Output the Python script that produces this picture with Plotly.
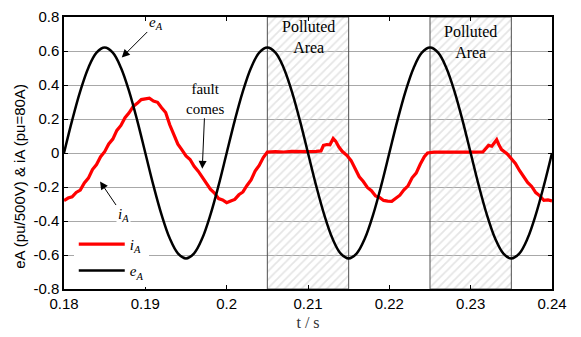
import plotly.graph_objects as go

# ---- data ----
EA_T = [round(0.180 + 0.001 * k, 3) for k in range(61)]
EA_V = [0.0, 0.192, 0.364, 0.502, 0.590, 0.620, 0.590, 0.502, 0.364, 0.192,
        0.0, -0.192, -0.364, -0.502, -0.590, -0.620, -0.590, -0.502, -0.364, -0.192,
        0.0, 0.192, 0.364, 0.502, 0.590, 0.620, 0.590, 0.502, 0.364, 0.192,
        0.0, -0.192, -0.364, -0.502, -0.590, -0.620, -0.590, -0.502, -0.364, -0.192,
        0.0, 0.192, 0.364, 0.502, 0.590, 0.620, 0.590, 0.502, 0.364, 0.192,
        0.0, -0.192, -0.364, -0.502, -0.590, -0.620, -0.590, -0.502, -0.364, -0.192,
        0.0]

IA_T = [0.1800, 0.1805, 0.1810, 0.1815, 0.1820, 0.1825, 0.1830, 0.1835, 0.1840, 0.1845,
        0.1850, 0.1855, 0.1860, 0.1865, 0.1870, 0.1875, 0.1880, 0.1885, 0.1890, 0.1895,
        0.1900, 0.1905, 0.1910, 0.1915, 0.1920, 0.1925, 0.1930, 0.1935, 0.1940, 0.1945,
        0.1950, 0.1955, 0.1960, 0.1965, 0.1970, 0.1975, 0.1980, 0.1985, 0.1990, 0.1995,
        0.2000, 0.2005, 0.2010, 0.2015, 0.2020, 0.2025, 0.2030, 0.2035, 0.2040, 0.2045,
        0.2050, 0.2060, 0.2070, 0.2080, 0.2090, 0.2100, 0.2110, 0.2116, 0.2119, 0.2123,
        0.2127, 0.2131, 0.2134, 0.2138, 0.2142, 0.2148, 0.2153, 0.2158, 0.2163, 0.2168,
        0.2173, 0.2178, 0.2183, 0.2188, 0.2193, 0.2198, 0.2203, 0.2208, 0.2213, 0.2218,
        0.2223, 0.2228, 0.2233, 0.2238, 0.2243, 0.2247, 0.2255, 0.2265, 0.2275, 0.2285,
        0.2295, 0.2305, 0.2315, 0.2319, 0.2322, 0.2326, 0.2329, 0.2332, 0.2335, 0.2338,
        0.2345, 0.2350, 0.2355, 0.2360, 0.2365, 0.2370, 0.2375, 0.2380, 0.2385, 0.2390,
        0.2395, 0.2400]
IA_V = [-0.280, -0.265, -0.258, -0.232, -0.218, -0.176, -0.148, -0.097, -0.068, -0.022,
        0.008, 0.053, 0.082, 0.133, 0.162, 0.208, 0.236, 0.273, 0.292, 0.314,
        0.318, 0.322, 0.306, 0.298, 0.266, 0.238, 0.166, 0.113, 0.052, 0.018,
        -0.017, -0.038, -0.078, -0.107, -0.143, -0.176, -0.213, -0.236, -0.268, -0.276,
        -0.292, -0.282, -0.273, -0.246, -0.229, -0.191, -0.158, -0.106, -0.073, -0.027,
        0.005, 0.008, 0.006, 0.009, 0.007, 0.008, 0.010, 0.012, 0.045, 0.050,
        0.048, 0.085, 0.070, 0.035, 0.010, -0.015, -0.045, -0.090, -0.140, -0.168,
        -0.203, -0.222, -0.253, -0.262, -0.279, -0.283, -0.284, -0.266, -0.248, -0.217,
        -0.193, -0.146, -0.118, -0.066, -0.022, 0.000, 0.005, 0.006, 0.005, 0.007,
        0.006, 0.005, 0.006, 0.030, 0.045, 0.040, 0.060, 0.078, 0.045, 0.020,
        -0.005, -0.032, -0.062, -0.103, -0.137, -0.173, -0.197, -0.233, -0.252, -0.278,
        -0.276, -0.282]

POLLUTED_START = [0.205, 0.225]
POLLUTED_END = [0.215, 0.235]
X_TICKS = [0.18, 0.19, 0.20, 0.21, 0.22, 0.23, 0.24]
X_TICK_TEXT = ["0.18", "0.19", "0.2", "0.21", "0.22", "0.23", "0.24"]
Y_TICKS = [0.8, 0.6, 0.4, 0.2, 0.0, -0.2, -0.4, -0.6, -0.8]
Y_TICK_TEXT = ["0.8", "0.6", "0.4", "0.2", "0", "-0.2", "-0.4", "-0.6", "-0.8"]
Y_MIN, Y_MAX = -0.8, 0.8

SERIF = "Liberation Serif"
SANS = "Liberation Sans"

fig = go.Figure()

# polluted (hatched) areas as full-height bars
centers = [(a + b) / 2 for a, b in zip(POLLUTED_START, POLLUTED_END)]
widths = [b - a for a, b in zip(POLLUTED_START, POLLUTED_END)]
fig.add_trace(go.Bar(
    x=centers, y=[Y_MAX - Y_MIN] * len(centers), base=Y_MIN, width=widths,
    marker=dict(color="rgba(0,0,0,0)",
                line=dict(color="#505050", width=1),
                pattern=dict(shape="/", fgcolor="#cccccc", bgcolor="rgba(0,0,0,0)",
                             size=6, solidity=0.3, fillmode="overlay")),
    showlegend=False, hoverinfo="skip"))

fig.add_trace(go.Scatter(
    x=IA_T, y=IA_V, mode="lines", name="<i>i</i><sub><i>A</i></sub>",
    line=dict(color="#ff0000", width=3.2), legendgroup="i"))
fig.add_trace(go.Scatter(
    x=EA_T, y=EA_V, mode="lines", name="<i>e</i><sub><i>A</i></sub>",
    line=dict(color="#000000", width=2.5, shape="spline", smoothing=1),
    legendgroup="e"))

ann_font = dict(family=SERIF, size=15, color="black")
annotations = [
    dict(x=0.1871, y=0.562, xref="x", yref="y", ax=34, ay=-34,
         text="<i>e</i><sub><i>A</i></sub>", showarrow=True, arrowhead=2,
         arrowsize=1.6, arrowwidth=1, arrowcolor="black", font=ann_font),
    dict(x=0.1970, y=-0.093, xref="x", yref="y", ax=3, ay=-70,
         text="fault<br>comes", showarrow=True, arrowhead=2,
         arrowsize=1.6, arrowwidth=1, arrowcolor="black", font=ann_font),
    dict(x=0.18443, y=-0.167, xref="x", yref="y", ax=23, ay=34,
         text="<i>i</i><sub><i>A</i></sub>", showarrow=True, arrowhead=2,
         arrowsize=1.6, arrowwidth=1, arrowcolor="black", font=ann_font,
         bgcolor="white"),
    dict(x=0.21, y=0.68, xref="x", yref="y", text="Polluted<br>Area",
         showarrow=False, font=dict(family=SERIF, size=16, color="black")),
    dict(x=0.23, y=0.655, xref="x", yref="y", text="Polluted<br>Area",
         showarrow=False, font=dict(family=SERIF, size=16, color="black")),
    dict(x=-0.0902, y=0.416, xref="paper", yref="paper", textangle=-90,
         xanchor="center", yanchor="middle",
         text="eA (pu/500V) & iA (pu=80A)", showarrow=False,
         font=dict(family=SANS, size=15, color="black")),
]

fig.update_layout(
    width=581, height=337,
    margin=dict(l=64, r=29, t=8, b=48),
    paper_bgcolor="white", plot_bgcolor="white",
    showlegend=True, barmode="overlay",
    legend=dict(x=0.02, y=0.225, xanchor="left", yanchor="top",
                bgcolor="white", borderwidth=0, tracegroupgap=4,
                font=dict(family=SERIF, size=15, color="black"),
                itemwidth=46),
    annotations=annotations,
)
fig.update_xaxes(
    range=[0.18, 0.24], tickvals=X_TICKS, ticktext=X_TICK_TEXT,
    showgrid=False, zeroline=False, showline=True, linecolor="black", linewidth=1.5,
    mirror="allticks", ticks="inside", ticklen=4, tickcolor="black",
    tickfont=dict(family=SANS, size=15, color="black"),
    title=dict(text="t / s", font=dict(family=SERIF, size=16, color="#333"), standoff=6))
fig.update_yaxes(
    range=[Y_MIN, Y_MAX], tickvals=Y_TICKS, ticktext=Y_TICK_TEXT,
    showgrid=True, gridcolor="#a8a8a8", gridwidth=1, zeroline=False,
    showline=True, linecolor="black", linewidth=1.5,
    mirror="allticks", ticks="inside", ticklen=4, tickcolor="black",
    tickfont=dict(family=SANS, size=15, color="black"))

fig.write_html("out.html")
